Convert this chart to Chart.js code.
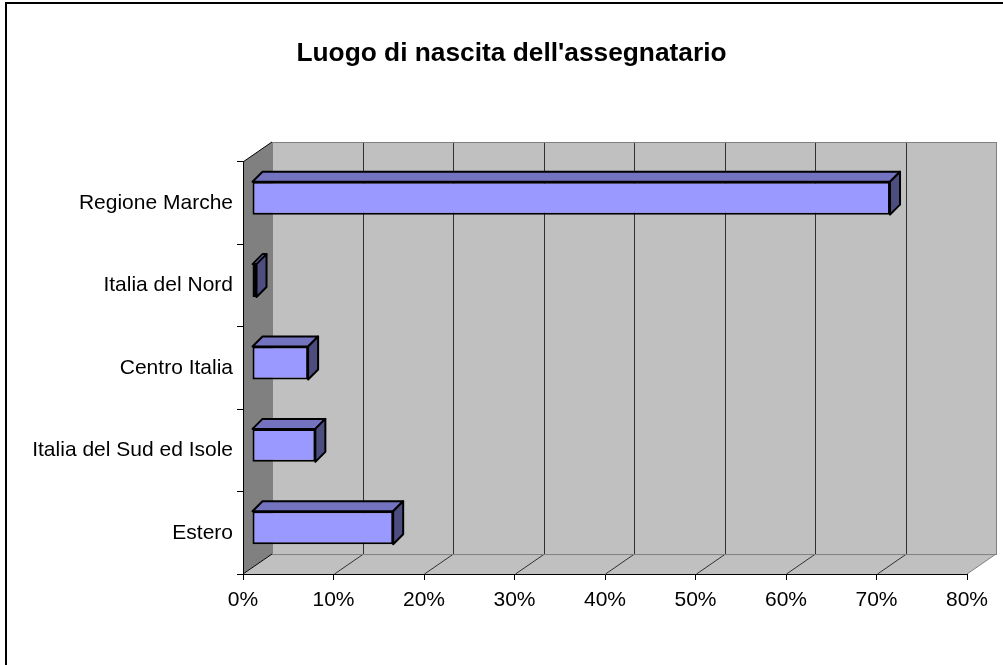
<!DOCTYPE html>
<html>
<head>
<meta charset="utf-8">
<title>Luogo di nascita dell'assegnatario</title>
<script src="https://cdn.jsdelivr.net/npm/chart.js@4.4.1/dist/chart.umd.min.js"></script>
<style>
    html, body { margin: 0; padding: 0; background: #fff; }
    canvas { display: block; }
</style>
</head>
<body>
<canvas id="myBarChart" width="1003" height="665"></canvas>
<script>
const luoghi = ["Regione Marche", "Italia del Nord", "Centro Italia", "Italia del Sud ed Isole", "Estero"];
const percentuali = [70.5, 0.5, 6.2, 7.0, 15.6];
const tickPercent = [0, 10, 20, 30, 40, 50, 60, 70, 80];

const font = "'Liberation Sans', Arial, sans-serif";

// profondita' delle pareti e delle barre (effetto 3D)
const wallDX = 29, wallDY = -20;
const barShiftX = 9, barShiftY = -5;
const barDX = 10, barDY = -10;

function poly(ctx, pts) {
    ctx.beginPath();
    ctx.moveTo(pts[0][0], pts[0][1]);
    for (let i = 1; i < pts.length; i++) ctx.lineTo(pts[i][0], pts[i][1]);
    ctx.closePath();
}

function line(ctx, x1, y1, x2, y2) {
    ctx.beginPath();
    ctx.moveTo(x1, y1);
    ctx.lineTo(x2, y2);
    ctx.stroke();
}

const pareti3d = {
    id: 'pareti3d',
    afterLayout(chart) {
        // titolo centrato sulla cornice, non sull'area del grafico
        chart.titleBlock.left = 20;
        chart.titleBlock.right = chart.width;
    },
    beforeDraw(chart) {
        const ctx = chart.ctx;
        const a = chart.chartArea;
        const xs = chart.scales.x;
        const L = a.left, R = a.right, T = a.top, B = a.bottom;

        ctx.save();
        ctx.fillStyle = '#fff';
        ctx.fillRect(0, 0, chart.width, chart.height);

        // cornice esterna
        ctx.strokeStyle = '#000';
        ctx.lineWidth = 2;
        ctx.strokeRect(6, 3, chart.width + 20, chart.height + 20);

        // parete laterale
        ctx.fillStyle = '#808080';
        poly(ctx, [[L, T], [L + wallDX, T + wallDY], [L + wallDX, B + wallDY], [L, B]]);
        ctx.fill();

        // pavimento
        ctx.fillStyle = '#c0c0c0';
        poly(ctx, [[L, B], [L + wallDX, B + wallDY], [R + wallDX, B + wallDY], [R, B]]);
        ctx.fill();

        // parete di fondo
        ctx.fillRect(L + wallDX, T + wallDY, R - L, B - T);

        // griglia sulla parete e sul pavimento
        ctx.lineWidth = 1;
        ctx.strokeStyle = '#303030';
        tickPercent.forEach(v => {
            if (v === 0 || v === 80) return;
            const x = Math.round(xs.getPixelForValue(v)) + 0.5;
            line(ctx, x + wallDX, T + wallDY, x + wallDX, B + wallDY);
            line(ctx, x + wallDX, B + wallDY, x, B);
        });

        // bordi grigi
        ctx.strokeStyle = '#808080';
        ctx.strokeRect(Math.round(L + wallDX) + 0.5, Math.round(T + wallDY) + 0.5, R - L, B - T);
        line(ctx, R + wallDX, B + wallDY, R, B);

        // spigoli scuri della parete laterale
        ctx.strokeStyle = '#000';
        line(ctx, L, T, L + wallDX, T + wallDY);
        line(ctx, L, B, L + wallDX, B + wallDY);
        ctx.restore();
    },
    beforeDatasetsDraw(chart) {
        chart.ctx.save();
        chart.ctx.translate(barShiftX, barShiftY);
    },
    afterDatasetsDraw(chart) {
        const ctx = chart.ctx;
        ctx.lineWidth = 2;
        ctx.strokeStyle = '#000';
        ctx.lineJoin = 'round';
        chart.getDatasetMeta(0).data.forEach(bar => {
            const p = bar.getProps(['x', 'y', 'base', 'height'], true);
            const x0 = Math.min(p.base, p.x), x1 = Math.max(p.base, p.x);
            const y0 = p.y - p.height / 2, y1 = p.y + p.height / 2;

            // faccia superiore
            ctx.fillStyle = '#7373bf';
            poly(ctx, [[x0, y0], [x1, y0], [x1 + barDX, y0 + barDY], [x0 + barDX, y0 + barDY]]);
            ctx.fill();
            ctx.stroke();

            // faccia laterale
            ctx.fillStyle = '#4d4d80';
            poly(ctx, [[x1, y0], [x1 + barDX, y0 + barDY], [x1 + barDX, y1 + barDY], [x1, y1]]);
            ctx.fill();
            ctx.stroke();
        });
        ctx.restore();
    }
};

const ctx = document.getElementById("myBarChart");

new Chart(ctx, {
    type: 'bar',
    data: {
        labels: luoghi,
        datasets: [{
            data: percentuali,
            backgroundColor: '#9999ff',
            borderColor: '#000',
            borderWidth: 2,
            borderSkipped: false,
            barPercentage: 0.4,
            categoryPercentage: 1,
            clip: false
        }]
    },
    options: {
        indexAxis: 'y',
        responsive: false,
        animation: false,
        events: [],
        layout: {
            padding: { left: 0, right: 36, top: 0, bottom: 0 }
        },
        scales: {
            x: {
                min: 0,
                max: 80,
                ticks: {
                    stepSize: 10,
                    maxRotation: 0,
                    padding: 8,
                    color: '#000',
                    font: { family: font, size: 21 },
                    callback: v => v + '%'
                },
                grid: { drawOnChartArea: false, tickLength: 6, color: '#000' },
                border: { color: '#000' },
                afterFit(scale) { scale.height = 91; }
            },
            y: {
                ticks: {
                    padding: 4,
                    color: '#000',
                    font: { family: font, size: 21 }
                },
                grid: { drawOnChartArea: false, tickLength: 6, color: '#000' },
                border: { color: '#000' },
                afterFit(scale) { scale.width = 243; }
            }
        },
        plugins: {
            legend: { display: false },
            tooltip: { enabled: false },
            title: {
                display: true,
                text: "Luogo di nascita dell'assegnatario",
                color: '#000',
                font: { family: font, size: 26.3, weight: 'bold' },
                padding: { top: 38, bottom: 92.4 }
            }
        }
    },
    plugins: [pareti3d]
});
</script>
</body>
</html>
